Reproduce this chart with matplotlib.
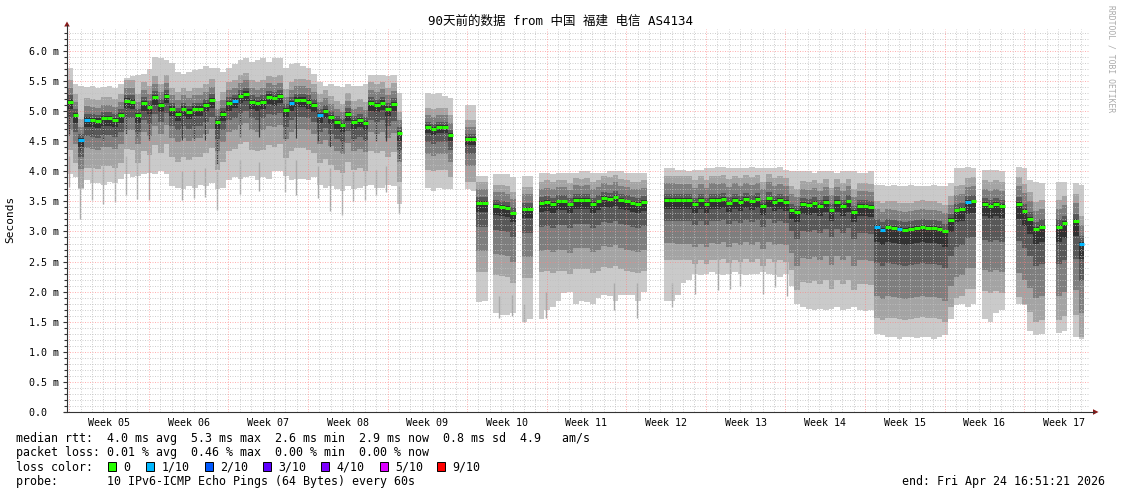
import numpy as np
import matplotlib
matplotlib.use("Agg")
import matplotlib.pyplot as plt
from matplotlib.lines import Line2D
from matplotlib.patches import Polygon, Rectangle

plt.rcParams['font.family'] = ['DejaVu Sans Mono', 'Noto Sans CJK SC']

W, H = 1121, 494
nan = np.nan
STEP = 0.5  # days per sample (90 days shown)

# median rtt per half day, ms
median = [
    5.16, 4.93, 4.52, 4.86, 4.85, 4.84, 4.88, 4.88, 4.85, 4.93,
    5.17, 5.16, 4.93, 5.13, 5.07, 5.23, 5.10, 5.25, 5.04, 4.96,
    5.04, 4.99, 5.04, 5.04, 5.10, 5.18, 4.82, 4.96, 5.13, 5.17,
    5.25, 5.29, 5.16, 5.13, 5.16, 5.24, 5.21, 5.25, 5.02, 5.13,
    5.19, 5.19, 5.16, 5.10, 4.93, 5.00, 4.90, 4.82, 4.77, 4.95,
    4.82, 4.85, 4.80, 5.13, 5.10, 5.14, 5.04, 5.12, 4.63, nan,
    nan, nan, nan, 4.73, 4.70, 4.73, 4.73, 4.60, nan, nan,
    4.53, 4.53, 3.47, 3.47, nan, 3.42, 3.41, 3.39, 3.30, nan,
    3.38, 3.38, nan, 3.47, 3.49, 3.46, 3.50, 3.50, 3.45, 3.53,
    3.52, 3.53, 3.46, 3.50, 3.56, 3.54, 3.58, 3.52, 3.50, 3.47,
    3.46, 3.49, nan, nan, nan, 3.53, 3.53, 3.52, 3.52, 3.52,
    3.46, 3.52, 3.46, 3.53, 3.52, 3.54, 3.47, 3.53, 3.49, 3.54,
    3.50, 3.54, 3.43, 3.55, 3.49, 3.52, 3.49, 3.36, 3.32, 3.46,
    3.44, 3.48, 3.43, 3.49, 3.35, 3.49, 3.43, 3.50, 3.32, 3.43,
    3.43, 3.41, 3.07, 3.03, 3.07, 3.06, 3.04, 3.03, 3.04, 3.06,
    3.08, 3.06, 3.06, 3.04, 3.00, 3.19, 3.35, 3.38, 3.49, 3.50,
    nan, 3.46, 3.43, 3.46, 3.43, nan, nan, 3.46, 3.34, 3.21,
    3.04, 3.08, nan, nan, 3.08, 3.14, nan, 3.17, 2.80, nan,
]

# slowest ping per half day, ms
ping_max = [
    5.72, 5.45, 5.42, 5.40, 5.42, 5.38, 5.40, 5.42, 5.38, 5.45,
    5.55, 5.58, 5.60, 5.62, 5.70, 5.90, 5.88, 5.85, 5.80, 5.65,
    5.62, 5.65, 5.68, 5.70, 5.75, 5.72, 5.72, 5.65, 5.72, 5.78,
    5.85, 5.88, 5.82, 5.85, 5.88, 5.82, 5.88, 5.88, 5.72, 5.78,
    5.80, 5.75, 5.72, 5.62, 5.48, 5.42, 5.45, 5.42, 5.40, 5.45,
    5.42, 5.42, 5.45, 5.60, 5.60, 5.60, 5.58, 5.60, 5.30, nan,
    nan, nan, nan, 5.30, 5.28, 5.30, 5.25, 5.22, nan, nan,
    5.10, 5.10, 3.93, 3.93, nan, 3.95, 3.95, 3.95, 3.90, nan,
    3.93, 3.92, nan, 3.98, 3.98, 3.95, 3.97, 3.98, 3.98, 3.98,
    4.00, 4.00, 3.98, 3.98, 3.98, 4.00, 4.00, 4.00, 3.98, 3.97,
    3.97, 3.97, nan, nan, nan, 4.05, 4.05, 4.02, 4.02, 4.00,
    4.02, 4.02, 4.05, 4.05, 4.07, 4.07, 4.05, 4.05, 4.05, 4.05,
    4.07, 4.05, 4.05, 4.05, 4.05, 4.07, 4.03, 4.00, 4.00, 4.00,
    4.00, 3.98, 4.00, 4.00, 4.00, 3.98, 4.00, 4.00, 4.00, 3.98,
    3.98, 4.00, 3.78, 3.78, 3.76, 3.77, 3.76, 3.75, 3.77, 3.76,
    3.75, 3.76, 3.77, 3.76, 3.75, 3.80, 4.05, 4.05, 4.07, 4.05,
    nan, 4.02, 4.02, 4.03, 4.00, nan, nan, 4.07, 4.06, 3.85,
    3.82, 3.80, nan, nan, 3.82, 3.82, nan, 3.80, 3.78, nan,
]

# fastest ping per half day, ms
ping_min = [
    3.95, 3.90, 3.70, 3.85, 3.80, 3.80, 3.78, 3.82, 3.80, 3.88,
    3.95, 3.90, 3.92, 3.95, 3.98, 3.95, 4.00, 3.95, 3.75, 3.72,
    3.70, 3.75, 3.72, 3.78, 3.75, 3.80, 3.70, 3.72, 3.85, 3.90,
    3.88, 3.90, 3.92, 3.85, 3.90, 3.88, 4.00, 4.00, 3.92, 3.85,
    3.88, 3.88, 3.85, 3.90, 3.78, 3.72, 3.75, 3.70, 3.68, 3.75,
    3.70, 3.72, 3.75, 3.78, 3.72, 3.72, 3.78, 3.75, 3.45, nan,
    nan, nan, nan, 3.72, 3.68, 3.72, 3.70, 3.70, nan, nan,
    3.70, 3.68, 1.82, 1.85, nan, 1.65, 1.62, 1.62, 1.65, nan,
    1.50, 1.55, nan, 1.55, 1.70, 1.75, 1.85, 1.98, 2.00, 1.80,
    1.85, 1.82, 1.80, 1.90, 1.95, 1.92, 1.85, 1.95, 1.95, 1.95,
    1.85, 2.00, nan, nan, nan, 1.85, 1.85, 1.95, 2.15, 2.20,
    2.30, 2.28, 2.30, 2.32, 2.30, 2.28, 2.30, 2.32, 2.30, 2.28,
    2.30, 2.30, 2.32, 2.30, 2.28, 2.25, 2.30, 2.10, 1.80, 1.75,
    1.72, 1.70, 1.72, 1.70, 1.72, 1.75, 1.70, 1.72, 1.75, 1.70,
    1.68, 1.70, 1.30, 1.28, 1.25, 1.24, 1.22, 1.24, 1.25, 1.23,
    1.25, 1.24, 1.22, 1.24, 1.28, 1.55, 1.78, 1.80, 1.75, 1.80,
    nan, 1.55, 1.50, 1.65, 1.70, nan, nan, 1.80, 1.78, 1.35,
    1.28, 1.30, nan, nan, 1.32, 1.35, nan, 1.25, 1.22, nan,
]

# inner pings relative to the median, read per stretch of the graph:
# (first sample, last sample, [p9, p8, p7, p6, p5, p4, p3, p2])
smoke_spread = [
    (0, 58, [0.35, 0.22, 0.10, 0.04, -0.12, -0.28, -0.48, -0.80]),
    (63, 71, [0.33, 0.20, 0.09, 0.04, -0.10, -0.25, -0.45, -0.70]),
    (72, 101, [0.36, 0.24, 0.10, 0.03, -0.15, -0.40, -0.80, -1.15]),
    (105, 127, [0.40, 0.27, 0.10, 0.03, -0.15, -0.35, -0.72, -1.00]),
    (128, 141, [0.38, 0.25, 0.10, 0.03, -0.17, -0.45, -0.90, -1.30]),
    (142, 154, [0.44, 0.30, 0.13, 0.03, -0.25, -0.60, -1.15, -1.50]),
    (155, 164, [0.40, 0.25, 0.10, 0.03, -0.20, -0.60, -1.10, -1.45]),
    (167, 178, [0.45, 0.30, 0.12, 0.03, -0.25, -0.62, -1.15, -1.55]),
]

# samples where 1 of 10 pings was lost
loss_1_of_10 = [2, 3, 29, 39, 44, 142, 143, 146, 158, 178]

# short drops below the smoke (day, ms)
spike_day = [0.15, 1.11, 2.2, 3.14, 4.19, 5.19, 6.16, 7.24, 10.11, 11.14,
             12.17, 13.19, 15.24, 16.86, 19.15, 20.17, 22.08, 23.16, 24.19, 25.15,
             26.18, 27.2, 28.08, 29.2, 38.0, 39.17, 40.19, 42.1, 48.11, 50.16,
             53.24, 55.23, 57.28, 58.31, 59.19, 61.24, 62.27, 63.3]
spike_low = [3.74, 3.21, 3.52, 3.46, 3.49, 3.60, 3.54, 3.52, 3.52, 3.55,
             3.58, 3.35, 3.63, 3.68, 3.66, 3.60, 3.55, 3.34, 3.27, 3.50,
             3.52, 3.60, 3.66, 3.31, 1.57, 1.60, 1.49, 1.57, 1.70, 1.57,
             1.74, 1.96, 2.02, 2.05, 2.10, 1.96, 2.07, 1.93]

# daily dips of the median in the first weeks (day, ms)
dip_day = [0.15, 1.11, 2.2, 3.14, 4.19, 5.19, 6.16, 7.24, 10.11, 11.14,
           12.17, 13.19, 15.24, 16.86, 19.15, 20.17, 22.08, 23.16, 24.19, 25.15,
           26.18, 27.2, 28.08, 29.2]
dip_low = [4.60, 4.35, 4.57, 4.52, 4.57, 4.62, 4.57, 4.52, 4.52, 4.52,
           4.52, 4.12, 4.57, 4.57, 4.52, 4.55, 4.50, 4.40, 4.35, 4.50,
           4.50, 4.50, 4.50, 4.18]

week_labels = ["Week 05", "Week 06", "Week 07", "Week 08", "Week 09", "Week 10", "Week 11",
               "Week 12", "Week 13", "Week 14", "Week 15", "Week 16", "Week 17"]
y_labels = ["0.0  ", "0.5 m", "1.0 m", "1.5 m", "2.0 m", "2.5 m", "3.0 m",
            "3.5 m", "4.0 m", "4.5 m", "5.0 m", "5.5 m", "6.0 m"]
title = "90天前的数据 from 中国 福建 电信 AS4134"
stats_rtt = "median rtt:  4.0 ms avg  5.3 ms max  2.6 ms min  2.9 ms now  0.8 ms sd  4.9   am/s"
stats_loss = "packet loss: 0.01 % avg  0.46 % max  0.00 % min  0.00 % now"
probe_text = "probe:       10 IPv6-ICMP Echo Pings (64 Bytes) every 60s"
end_text = "end: Fri Apr 24 16:51:21 2026"
loss_labels = ["0", "1/10", "2/10", "3/10", "4/10", "5/10", "9/10"]
loss_colors = ["#26ff00", "#00b8ff", "#0059ff", "#5e00ff", "#7e00ff", "#dd00ff", "#ff0000"]

smoke_colors = ["#cacaca", "#a4a4a4", "#7e7e7e", "#585858", "#323232",
                "#585858", "#7e7e7e", "#a4a4a4", "#cacaca"]

FIRST_SUNDAY = 0.2  # day offset of first week boundary
YTOP = 6.365
LEGEND_FS = 8.4


def fx(x):
    return x / W


def fy(y):
    return 1 - y / H


med = np.array(median, float)
hi = np.array(ping_max, float)
lo = np.array(ping_min, float)
n = len(med)

# ping edges p1..p10, sorted per sample
edges = np.full((10, n), nan)
edges[0] = lo
edges[9] = hi
for first, last, offs in smoke_spread:
    sl = slice(first, last + 1)
    for k, off in enumerate(offs):
        edges[8 - k, sl] = med[sl] + off
edges[1:9] = np.clip(edges[1:9], lo, hi)
edges = np.sort(edges, axis=0)

valid = ~np.isnan(med)
segments = []
i = 0
while i < n:
    if valid[i]:
        j = i
        while j + 1 < n and valid[j + 1]:
            j += 1
        segments.append((i, j))
        i = j + 1
    else:
        i += 1

fig = plt.figure(figsize=(W / 100, H / 100), dpi=100)
fig.patch.set_facecolor("white")
ax = fig.add_axes([fx(67), fy(412), (1090 - 67) / W, (412 - 29) / H])
ax.set_xlim(0, 90)
ax.set_ylim(0, YTOP)
for s in ax.spines.values():
    s.set_visible(False)

day = np.arange(n + 1) * STEP
for s, e in segments:
    xs = day[s:e + 2]
    for k in range(9):
        y0 = np.append(edges[k, s:e + 1], edges[k, e])
        y1 = np.append(edges[k + 1, s:e + 1], edges[k + 1, e])
        ax.fill_between(xs, y0, y1, step="post", color=smoke_colors[k],
                        lw=0, antialiased=False, zorder=1)

# drops below the smoke and dark dips under the median
spike_top = [lo[int(d / STEP)] + 0.3 for d in spike_day]
ax.vlines(spike_day, spike_low, spike_top, colors="#ababab", lw=1.0, zorder=1.5)
dip_top = [med[int(d / STEP)] for d in dip_day]
ax.vlines(dip_day, dip_low, dip_top, colors="#3c3c3c", lw=0.9, zorder=1.6)

# grid on top of the smoke
for v in np.round(np.arange(0.1, YTOP, 0.1), 1):
    major = abs(v * 2 - round(v * 2)) < 1e-6
    ax.axhline(v, color="#ff8080" if major else "#c0c0c0", alpha=0.6 if major else 0.75,
               lw=0.72, ls=(0, (1, 1.5)), zorder=3)
for d in np.arange(FIRST_SUNDAY, 90, 1.0):
    major = abs(((d - FIRST_SUNDAY) / 7) - round((d - FIRST_SUNDAY) / 7)) < 1e-6
    ax.axvline(d, color="#ff8080" if major else "#c0c0c0", alpha=0.6 if major else 0.75,
               lw=0.72, ls=(0, (1, 1.5)), zorder=3)

# median, coloured by loss
cols = np.array([loss_colors[1] if k in loss_1_of_10 else loss_colors[0] for k in range(n)])
ax.hlines(med[valid], day[:-1][valid], day[1:][valid], colors=cols[valid], lw=2.2, zorder=4)

# ticks
ax.set_yticks(np.arange(0, 6.01, 0.5))
ax.set_yticklabels(y_labels)
ax.set_yticks(np.arange(0, 6.35, 0.1), minor=True)
ax.tick_params(axis="y", which="major", length=3, width=0.8, color="#333333", pad=3,
               labelsize=7.2, labelcolor="black")
ax.tick_params(axis="y", which="minor", length=2, width=0.8, color="#333333")
week_centers = FIRST_SUNDAY + 3.5 + 7 * np.arange(len(week_labels))
ax.set_xticks(week_centers)
ax.set_xticklabels(week_labels)
ax.tick_params(axis="x", length=0, pad=4, labelsize=7.2, labelcolor="black")

# axes with arrows
fig.add_artist(Line2D([fx(67), fx(67)], [fy(412), fy(25)], color="#333333", lw=0.8))
fig.add_artist(Line2D([fx(64), fx(1094)], [fy(412), fy(412)], color="#333333", lw=0.8))
fig.add_artist(Polygon([(fx(64.2), fy(26.5)), (fx(69.8), fy(26.5)), (fx(67), fy(21.5))],
                       closed=True, color="#8b1a1a", lw=0))
fig.add_artist(Polygon([(fx(1093), fy(409.2)), (fx(1093), fy(414.8)), (fx(1098.5), fy(412))],
                       closed=True, color="#8b1a1a", lw=0))

# texts
fig.text(fx(560.5), fy(25), title, ha="center", va="baseline", fontsize=9)
fig.text(fx(10.5), fy(219.5), "Seconds", rotation=90, ha="center", va="center", fontsize=8)
fig.text(fx(1111), fy(5), "RRDTOOL / TOBI OETIKER", rotation=270, ha="center", va="top",
         fontsize=5.8, color="#aaaaaa")

fig.text(fx(16), fy(441.5), stats_rtt, ha="left", va="baseline", fontsize=LEGEND_FS)
fig.text(fx(16), fy(456), stats_loss, ha="left", va="baseline", fontsize=LEGEND_FS)
fig.text(fx(16), fy(470.5), "loss color:", ha="left", va="baseline", fontsize=LEGEND_FS)
fig.text(fx(16), fy(484.5), probe_text, ha="left", va="baseline", fontsize=LEGEND_FS)
fig.text(fx(1105), fy(484.5), end_text, ha="right", va="baseline", fontsize=LEGEND_FS)

box_x = [108.1, 146.3, 204.7, 263.1, 321.1, 379.6, 437.2]
for bx, lab, c in zip(box_x, loss_labels, loss_colors):
    fig.add_artist(Rectangle((fx(bx), fy(470.5)), 8 / W, 8.5 / H, facecolor=c,
                             edgecolor="black", lw=0.7))
    fig.text(fx(bx + 15.5), fy(470.5), lab, ha="left", va="baseline", fontsize=LEGEND_FS)

fig.savefig("out.png", dpi=100, facecolor="white")
